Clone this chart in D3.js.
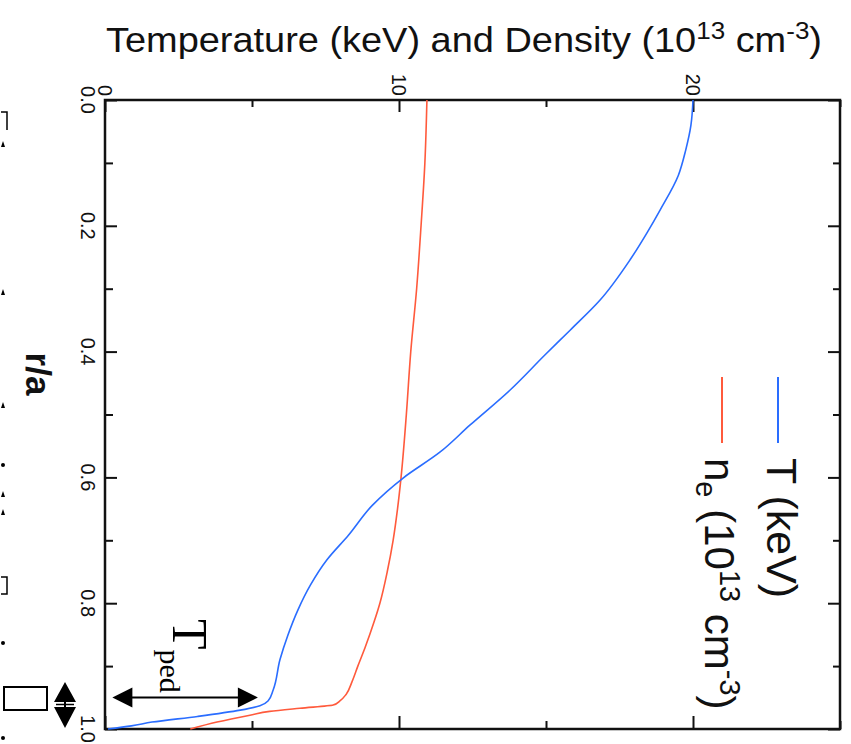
<!DOCTYPE html>
<html>
<head>
<meta charset="utf-8">
<script src="https://cdn.jsdelivr.net/npm/d3@7"></script>
<style>
  body { margin: 0; background: #fff; }
  svg { display: block; }
</style>
</head>
<body>
<svg id="chart" width="851" height="744"></svg>
<script>
// Radial profiles: electron temperature and density vs normalised radius r/a
const tempR   = [0, 0.04, 0.08, 0.12, 0.175, 0.21, 0.254, 0.318, 0.366, 0.405, 0.461, 0.517, 0.56, 0.601, 0.644, 0.692, 0.731, 0.771, 0.811, 0.851, 0.89, 0.938, 0.955, 0.963, 0.97, 0.98, 0.989, 0.995, 1.0];
const tempKeV = [20.0, 19.93, 19.75, 19.5, 18.88, 18.45, 17.86, 16.84, 15.82, 14.97, 13.78, 12.41, 11.39, 10.14, 9.1, 8.28, 7.55, 6.99, 6.56, 6.22, 5.95, 5.72, 5.55, 5.27, 4.6, 3.15, 1.6, 0.9, 0.1];

const densR   = [0, 0.1, 0.2, 0.3, 0.4, 0.5, 0.6, 0.65, 0.7, 0.75, 0.8, 0.83, 0.87, 0.9, 0.925, 0.945, 0.955, 0.962, 0.967, 0.972, 0.978, 0.989, 1.0];
const density = [10.95, 10.88, 10.75, 10.6, 10.4, 10.25, 10.07, 9.95, 9.8, 9.6, 9.35, 9.15, 8.85, 8.6, 8.4, 8.2, 8.0, 7.76, 6.63, 5.6, 4.93, 3.81, 2.9];

const valueTicks  = [0, 5, 10, 15, 20, 25];
const valueLabels = { 0: "0", 10: "10", 20: "20" };
const rTicks  = [0, 0.1, 0.2, 0.3, 0.4, 0.5, 0.6, 0.7, 0.8, 0.9, 1.0];
const rLabels = { 0: "0.0", 0.2: "0.2", 0.4: "0.4", 0.6: "0.6", 0.8: "0.8", 1: "1.0" };

// Pedestal annotation: level and span of the double arrow
const pedR = 0.95;
const pedSpan = [0.25, 5.2];

const COLORS = { T: "#2a6dff", n: "#ff5a3c" };

const svg = d3.select("#chart");
const plot = { left: 105, right: 840, top: 100, bottom: 729 };

// The profile is drawn turned a quarter turn: value runs across, r/a runs down
const x = d3.scaleLinear().domain([0, 25]).range([plot.left, plot.right]);
const y = d3.scaleLinear().domain([0, 1]).range([plot.top, plot.bottom]);

const isMajorV = v => v in valueLabels;
const isMajorR = r => Math.round(r * 10) % 2 === 0;

// Top axis: value ticks pointing into the plot, labels rotated
const topAxis = svg.append("g")
  .attr("transform", `translate(0,${plot.top})`)
  .call(d3.axisTop(x).tickValues(valueTicks).tickSize(0).tickFormat(""));
topAxis.select(".domain").remove();
topAxis.selectAll(".tick line")
  .attr("y2", d => isMajorV(d) ? 12 : 7)
  .attr("stroke", "#111").attr("stroke-width", 2);

// Bottom axis ticks (no labels)
const botAxis = svg.append("g")
  .attr("transform", `translate(0,${plot.bottom})`)
  .call(d3.axisBottom(x).tickValues(valueTicks).tickSize(0).tickFormat(""));
botAxis.select(".domain").remove();
botAxis.selectAll(".tick line")
  .attr("y2", d => isMajorV(d) ? -13 : -8)
  .attr("stroke", "#111").attr("stroke-width", 2);

// Left axis: r/a ticks
const leftAxis = svg.append("g")
  .attr("transform", `translate(${plot.left},0)`)
  .call(d3.axisLeft(y).tickValues(rTicks).tickSize(0).tickFormat(""));
leftAxis.select(".domain").remove();
leftAxis.selectAll(".tick line")
  .attr("x2", d => isMajorR(d) ? 12 : 8)
  .attr("stroke", "#111").attr("stroke-width", 2);

// Right axis ticks
const rightAxis = svg.append("g")
  .attr("transform", `translate(${plot.right},0)`)
  .call(d3.axisRight(y).tickValues(rTicks).tickSize(0).tickFormat(""));
rightAxis.select(".domain").remove();
rightAxis.selectAll(".tick line")
  .attr("x2", d => isMajorR(d) ? -12 : -7)
  .attr("stroke", "#111").attr("stroke-width", 2);

// Frame
svg.append("rect")
  .attr("x", plot.left).attr("y", plot.top)
  .attr("width", plot.right - plot.left).attr("height", plot.bottom - plot.top)
  .attr("fill", "none").attr("stroke", "#111").attr("stroke-width", 2.5);

const font = "'Liberation Sans', Arial, Helvetica, sans-serif";

// Value tick labels (rotated)
svg.append("g").selectAll("text")
  .data(valueTicks.filter(isMajorV))
  .join("text")
  .attr("transform", d => `translate(${x(d)},96) rotate(90)`)
  .attr("text-anchor", "end")
  .attr("dy", "0.35em")
  .attr("font-family", font).attr("font-size", 20).attr("fill", "#111")
  .text(d => valueLabels[d]);

// r/a tick labels (rotated)
svg.append("g").selectAll("text")
  .data(rTicks.filter(isMajorR))
  .join("text")
  .attr("transform", d => `translate(81,${y(d)}) rotate(90)`)
  .attr("text-anchor", "middle")
  .attr("font-family", font).attr("font-size", 20).attr("fill", "#111")
  .text(d => rLabels[Math.round(d * 10) / 10]);

// Axis titles
const title = svg.append("text")
  .attr("x", 106).attr("y", 52)
  .attr("textLength", 716).attr("lengthAdjust", "spacingAndGlyphs")
  .attr("font-family", font).attr("font-size", 35).attr("fill", "#111");
title.append("tspan").text("Temperature (keV) and Density (10");
title.append("tspan").attr("font-size", 24).attr("dy", -13).text("13");
title.append("tspan").attr("dy", 13).text(" cm");
title.append("tspan").attr("font-size", 24).attr("dy", -13).text("-3");
title.append("tspan").attr("dy", 13).text(")");

svg.append("text")
  .attr("transform", `translate(26,374) rotate(90)`)
  .attr("text-anchor", "middle")
  .attr("font-family", font).attr("font-size", 35).attr("font-weight", "bold").attr("fill", "#111")
  .text("r/a");

// Profiles
const line = d3.line().x(d => x(d[1])).y(d => y(d[0])).curve(d3.curveMonotoneY);
svg.append("path")
  .datum(d3.zip(densR, density))
  .attr("d", line).attr("fill", "none")
  .attr("stroke", COLORS.n).attr("stroke-width", 1.6);
svg.append("path")
  .datum(d3.zip(tempR, tempKeV))
  .attr("d", line).attr("fill", "none")
  .attr("stroke", COLORS.T).attr("stroke-width", 1.6);

// Legend
const legend = svg.append("g");
legend.append("line")
  .attr("x1", 778).attr("x2", 778).attr("y1", 377).attr("y2", 443)
  .attr("stroke", COLORS.T).attr("stroke-width", 2);
legend.append("line")
  .attr("x1", 722).attr("x2", 722).attr("y1", 377).attr("y2", 443)
  .attr("stroke", COLORS.n).attr("stroke-width", 2);
legend.append("text")
  .attr("transform", "translate(767,458) rotate(90)")
  .attr("font-family", font).attr("font-size", 43).attr("fill", "#111")
  .text("T (keV)");
const nLab = legend.append("text")
  .attr("transform", "translate(705,458) rotate(90)")
  .attr("font-family", font).attr("font-size", 42).attr("fill", "#111");
nLab.append("tspan").text("n");
nLab.append("tspan").attr("font-size", 29).attr("dy", 9).text("e");
nLab.append("tspan").attr("dy", -9).text(" (10");
nLab.append("tspan").attr("font-size", 29).attr("dy", -15).text("13");
nLab.append("tspan").attr("dy", 15).text(" cm");
nLab.append("tspan").attr("font-size", 29).attr("dy", -15).text("-3");
nLab.append("tspan").attr("dy", 15).text(")");

// Pedestal annotation: double arrow with T_ped label
const ay = y(pedR);
const ax0 = x(pedSpan[0]), ax1 = x(pedSpan[1]);
const ann = svg.append("g");
ann.append("line")
  .attr("x1", ax0 + 18).attr("x2", ax1 - 18).attr("y1", ay).attr("y2", ay)
  .attr("stroke", "#000").attr("stroke-width", 2);
ann.append("path")
  .attr("d", `M${ax0},${ay} L${ax0 + 20},${ay - 10} L${ax0 + 20},${ay + 10} Z`)
  .attr("fill", "#000");
ann.append("path")
  .attr("d", `M${ax1},${ay} L${ax1 - 20},${ay - 10} L${ax1 - 20},${ay + 10} Z`)
  .attr("fill", "#000");
const serif = "'Liberation Serif', 'Times New Roman', serif";
const tped = ann.append("text")
  .attr("transform", `translate(173,619) rotate(90)`)
  .attr("font-family", serif).attr("font-size", 50).attr("fill", "#000");
tped.append("tspan").text("T");
tped.append("tspan").attr("font-size", 30).attr("dy", 13).text("ped");

// Fragments of the caption along the left edge
const frag = svg.append("g").attr("fill", "none").attr("stroke", "#000").attr("stroke-width", 2);
frag.append("rect").attr("x", 4).attr("y", 687).attr("width", 43).attr("height", 23);
frag.append("path").attr("d", "M1,112 L7,112 L7,130").attr("stroke-width", 1.5);
frag.append("path").attr("d", "M1,577 L7,577 L7,594 L1,594").attr("stroke-width", 1.5);
const fragFill = svg.append("g").attr("fill", "#000");
[[3, 143], [3, 291], [3, 404], [3, 493], [3, 511]].forEach(([fx, fy]) => {
  fragFill.append("path").attr("d", `M${fx - 2},${fy + 4} L${fx},${fy - 2} L${fx + 2},${fy + 4} Z`);
});
[[3, 465], [3, 643], [3, 738]].forEach(([fx, fy]) => {
  fragFill.append("circle").attr("cx", fx).attr("cy", fy).attr("r", 2);
});
// Vertical double arrow glyph
fragFill.append("path").attr("d", "M65,682 L76,702 L54,702 Z M54,707 L76,707 L65,728 Z");
svg.append("line").attr("x1", 65).attr("x2", 65).attr("y1", 700).attr("y2", 709)
  .attr("stroke", "#000").attr("stroke-width", 2);
svg.append("line").attr("x1", 56).attr("x2", 74).attr("y1", 704.5).attr("y2", 704.5)
  .attr("stroke", "#000").attr("stroke-width", 1.5);
</script>
</body>
</html>
